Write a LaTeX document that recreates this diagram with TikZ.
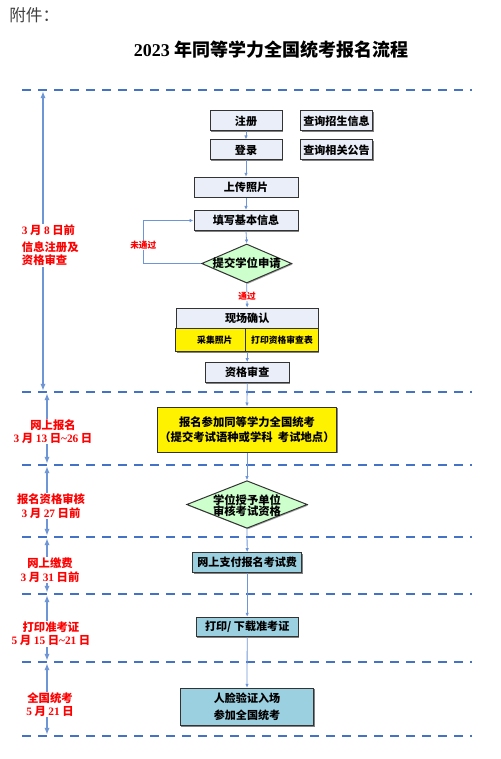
\documentclass[tikz,border=0pt]{standalone}
\usepackage{fontspec}
\setmainfont{Noto Sans CJK SC}
\newfontfamily\tnr{Liberation Serif}
\newcommand\dgt[1]{{\tnr\bfseries #1}}
\usetikzlibrary{shapes.geometric,arrows.meta,shadows}
\definecolor{dashblue}{RGB}{68,114,196}
\definecolor{arrblue}{RGB}{110,150,215}
\definecolor{boxfill}{RGB}{233,238,248}
\definecolor{cyanfill}{RGB}{155,208,224}
\definecolor{greenfill}{RGB}{204,255,204}
\definecolor{labred}{RGB}{255,0,0}
\tikzset{
  sz/.style 2 args={minimum width=#1*0.75pt, minimum height=#2*0.75pt},
  box/.style={draw=black!80, line width=0.75pt, fill=boxfill, inner sep=0pt,
    font=\bfseries\fontsize{8.3}{10}\selectfont,
    drop shadow={shadow xshift=0.8pt, shadow yshift=-0.8pt, opacity=0.7, fill=black!70}},
  smallbox/.style={box, font=\bfseries\fontsize{6.6}{8}\selectfont},
  dia/.style={diamond, draw=black!80, line width=0.75pt, inner sep=0pt,
    drop shadow={shadow xshift=0.8pt, shadow yshift=-0.8pt, opacity=0.5, fill=black!70}},
  btxt/.style={inner sep=0pt, font=\bfseries\fontsize{8.5}{8.4}\selectfont, align=center},
  flow/.style={draw=arrblue, line width=0.6pt, -{Latex[length=3pt,width=2.6pt]}},
  loopln/.style={draw=arrblue, line width=0.75pt, -{Latex[length=3pt,width=2.6pt]}},
  lft/.style={draw=arrblue, line width=0.9pt, {Latex[length=5pt,width=4pt]}-{Latex[length=5pt,width=4pt]}},
  dashln/.style={draw=dashblue, line width=1.6pt, dash pattern=on 6.75pt off 5.25pt},
  redlab/.style={text=labred, fill=white, inner sep=0.5pt, align=center,
    font=\bfseries\fontsize{8.5}{10}\selectfont},
  tinylab/.style={text=labred, fill=white, inner sep=0.5pt,
    font=\bfseries\fontsize{6.5}{7}\selectfont}
}
\begin{document}
\begin{tikzpicture}[x=0.75pt,y=-0.75pt]
\useasboundingbox (0,0) rectangle (500,759);

% header
\node[anchor=west, inner sep=0pt, text=black!75, font=\fontsize{12.5}{14}\selectfont] (fj) at (9,15) {附件：};
\node[inner sep=0pt, font=\bfseries\fontsize{13.5}{16}\selectfont] (title) at (271,50) {{\tnr\bfseries 2023} 年同等学力全国统考报名流程};

% dashed separators
\foreach \yy in {90,392,465,537,594,662,736}
  \draw[dashln] (22,\yy) -- (472,\yy);

% left duration arrows
\coordinate (t1) at (43,91.5);  \coordinate (b1) at (43,390.5);
\coordinate (t2) at (47,393.5); \coordinate (b2) at (47,463.5);
\coordinate (t3) at (47,466.5); \coordinate (b3) at (47,535.5);
\coordinate (t4) at (47,538.5); \coordinate (b4) at (47,592.5);
\coordinate (t5) at (47,595.5); \coordinate (b5) at (47,660.5);
\coordinate (t6) at (47,663.5); \coordinate (b6) at (47,734.5);
\foreach \k in {1,...,6} \draw[lft] (t\k) -- (b\k);

\node[redlab, anchor=west, align=left] (L1) at (21,245.5) {\dgt{3} 月 \dgt{8} 日前\\[2.5pt]信息注册及\\资格审查};
\node[redlab] (L2) at (53,431.5) {网上报名\\\dgt{3} 月 \dgt{13} 日\dgt{\textasciitilde26} 日};
\node[redlab] (L3) at (51,506) {报名资格审核\\\dgt{3} 月 \dgt{27} 日前};
\node[redlab] (L4) at (50,570) {网上缴费\\\dgt{3} 月 \dgt{31} 日前};
\node[redlab] (L5) at (51,634) {打印准考证\\\dgt{5} 月 \dgt{15} 日\dgt{\textasciitilde21} 日};
\node[redlab] (L6) at (50,704.5) {全国统考\\\dgt{5} 月 \dgt{21} 日};

% main flow
\node[box, sz={72}{20}] (zc) at (246,121) {注册};
\node[box, sz={72}{20}] (cx1) at (336.5,121) {查询招生信息};
\node[box, sz={72}{20}] (dl) at (246,150) {登录};
\node[box, sz={72}{20}] (cx2) at (336.5,150) {查询相关公告};
\node[box, sz={104}{20}] (sc) at (246,187.3) {上传照片};
\node[box, sz={104}{20}] (tx) at (246,220.5) {填写基本信息};
\node[dia, fill=greenfill, sz={90}{39}] (d1) at (246.7,263.5) {};
\node[btxt] (d1t) at (d1) {提交学位申请};

\node[box, sz={142.3}{21}] (xc) at (247.2,318.7) {现场确认};
\node[smallbox, fill=yellow, sz={69.7}{22.7}] (cj) at (210.8,340.3) {\hspace*{6pt}采集照片};
\node[smallbox, fill=yellow, sz={72.6}{22.7}] (dy) at (282,340.3) {打印资格审查表};
\node[box, sz={84.3}{20}] (zs) at (247.2,372.7) {资格审查};
\node[box, fill=yellow, sz={179.4}{45}, align=center,
  font=\bfseries\fontsize{8.5}{11.2}\selectfont] (bm) at (247,429.5)
  {报名参加同等学力全国统考\\（提交考试语种或学科\ \ 考试地点）};
\node[dia, fill=greenfill, sz={120.6}{47.6}] (d2) at (247,504.5) {};
\node[btxt] (d2t) at (247,505.5) {学位授予单位\\审核考试资格};
\node[box, fill=cyanfill, sz={109}{20}] (zf) at (247.2,562.7) {网上支付报名考试费};
\node[box, fill=cyanfill, sz={102.3}{19.4}] (dz) at (247.2,627) {打印/ 下载准考证};
\node[box, fill=cyanfill, sz={133.4}{37.4}, align=center,
  font=\bfseries\fontsize{8.3}{12.45}\selectfont] (rl) at (247,707) {人脸验证入场\\参加全国统考};

% connectors
\draw[flow] (zc.south) -- (dl.north);
\draw[flow] (dl.south) -- (sc.north);
\draw[flow] (sc.south) -- (tx.north);
\draw[flow] (tx.south) -- (d1.north);
\coordinate (lp) at (143.3,263.5);
\draw[loopln] (d1.west) -- (lp) |- (tx.west);
\node[tinylab] (wtg) at (143.3,245.7) {未通过};
\draw[flow] (d1.south) -- (xc.north);
\node[tinylab] (tg) at (247,296.3) {通过};
\draw[flow] (xc.south |- cj.south) -- (zs.north);
\draw[flow] (zs.south) -- (bm.north);
\draw[flow] (bm.south) -- (d2.north);
\draw[flow] (d2.south) -- (zf.north);
\draw[flow] (zf.south) -- (dz.north);
\draw[flow] (dz.south) -- (rl.north);
\end{tikzpicture}
\end{document}
